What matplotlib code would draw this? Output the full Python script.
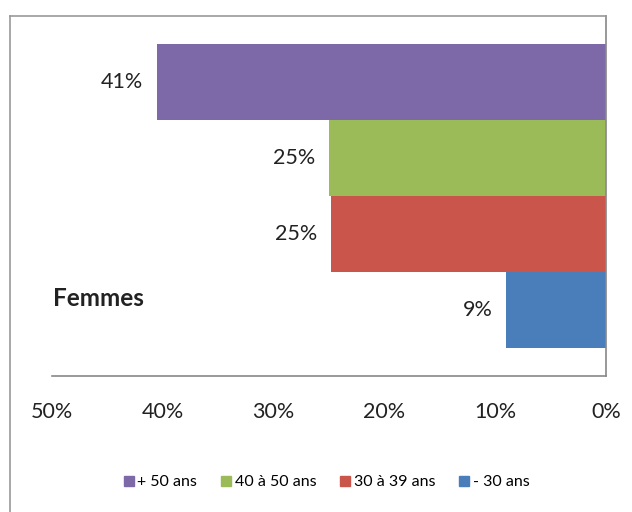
import matplotlib.pyplot as plt
from matplotlib.lines import Line2D

# Data
groups = ["+ 50 ans", "40 à 50 ans", "30 à 39 ans", "- 30 ans"]
values = [40.5, 25.0, 24.8, 9.0]
value_labels = ["41%", "25%", "25%", "9%"]
colors = ["#7D69A8", "#9BBB59", "#C9554B", "#4A7EBB"]
xticks = [50, 40, 30, 20, 10, 0]

plt.rcParams['font.family'] = ['Lato', 'DejaVu Sans']

W, H = 632, 512
fig = plt.figure(figsize=(W / 100, H / 100), dpi=100)
ax = fig.add_axes([52 / W, 1 - 376 / H, (606 - 52) / W, (376 - 16) / H])

# top bar first
positions = [3, 2, 1, 0]
for p, v, lab, c, g in zip(positions, values, value_labels, colors, groups):
    ax.barh(p, v, height=1.0, color=c, label=g)
    ax.annotate(lab, xy=(v, p), xytext=(-10, 0), textcoords='offset points',
                ha='right', va='center', fontsize=15.5, color='#222222')

ax.set_xlim(50, 0)
ax.set_ylim(-0.868, 3.868)
ax.set_xticks(xticks)
ax.set_xticklabels([f"{t}%" for t in xticks], fontsize=15.5, color='#222222')
ax.tick_params(axis='x', length=0, pad=19)
ax.set_yticks([])

for s in ['left', 'top']:
    ax.spines[s].set_visible(False)
for s in ['right', 'bottom']:
    ax.spines[s].set_color('#888888')
    ax.spines[s].set_linewidth(1.2)

# chart frame
fig.add_artist(Line2D([10 / W, 606 / W], [1 - 16 / H, 1 - 16 / H], color='#999999', lw=1.2))
fig.add_artist(Line2D([10 / W, 10 / W], [1 - 16 / H, 0], color='#999999', lw=1.2))

fig.text(53 / W, 1 - 298 / H, "Femmes", fontsize=17.5, fontweight='bold',
         va='center', ha='left', color='#222222')

handles = [Line2D([], [], marker='s', linestyle='none', markersize=6.5,
                  markerfacecolor=c, markeredgecolor=c) for c in colors]
fig.legend(handles, groups, loc='center', bbox_to_anchor=(326 / W, 1 - 482 / H),
           ncol=4, frameon=False, fontsize=11.5, handletextpad=0.15,
           columnspacing=1.4, handlelength=0.8)

fig.savefig("out.png", dpi=100)
